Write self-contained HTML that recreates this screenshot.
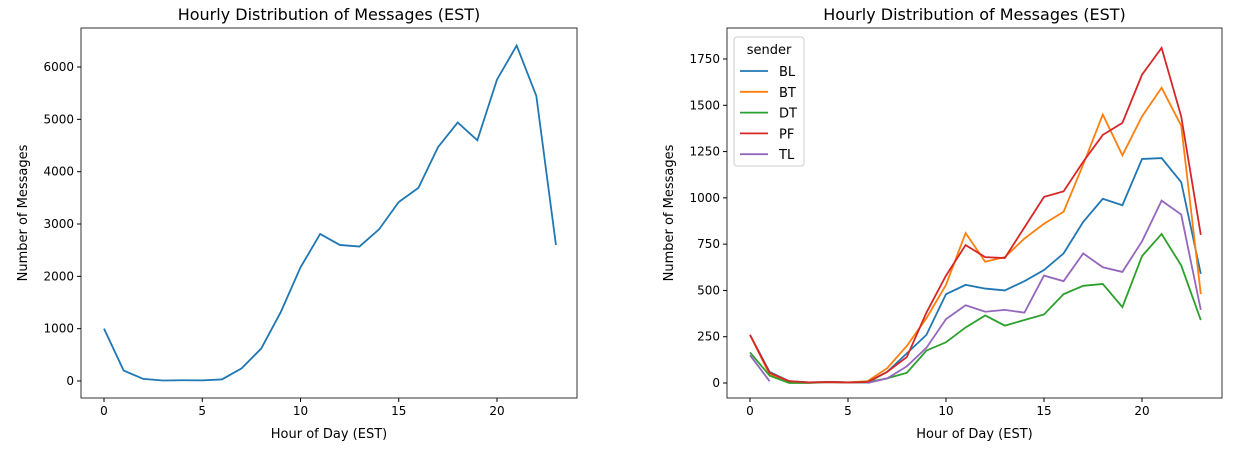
<!DOCTYPE html>
<html><head><meta charset="utf-8"><style>
body{margin:0;background:#fff;font-family:"DejaVu Sans","Liberation Sans",sans-serif}
svg text{font-family:"DejaVu Sans","Liberation Sans",sans-serif;fill:#000}
</style></head><body>
<svg id="c" width="1260" height="450"></svg>
<script>
const hours=[...Array(24).keys()];
const totalMsgs=[1000,200,40,10,15,12,30,240,620,1320,2170,2810,2600,2570,2900,3420,3690,4470,4940,4600,5760,6410,5450,2600];
const senders=["BL","BT","DT","PF","TL"];
const colors=["#1f77b4","#ff7f0e","#2ca02c","#d62728","#9467bd"];
const bl=[260,60,10,3,5,3,3,60,160,260,480,530,510,500,550,610,700,870,995,960,1210,1215,1085,590];
const bt=[260,45,5,2,5,3,10,80,200,350,530,810,655,680,780,860,925,1180,1450,1230,1440,1595,1390,480];
const dt=[165,40,0,0,5,3,5,25,55,175,220,300,365,310,340,370,480,525,535,410,685,805,635,340];
const pf=[260,55,10,3,5,3,5,60,140,380,580,745,680,675,840,1005,1035,1195,1340,1405,1665,1810,1440,800];
const tl=[150,10,null,null,null,null,0,25,90,190,345,420,385,395,380,580,550,700,625,600,765,985,910,395];
const xTicks=[0,5,10,15,20];
const yTicksL=[0,1000,2000,3000,4000,5000,6000];
const yTicksR=[0,250,500,750,1000,1250,1500,1750];
const NS="http://www.w3.org/2000/svg",svg=document.getElementById('c');
function el(t,a,txt){const e=document.createElementNS(NS,t);for(const k in a)e.setAttribute(k,a[k]);if(txt!=null)e.textContent=txt;svg.appendChild(e);return e;}
function panel(p){
 const {x0,y0,w,h,xs,ys,yt,name}=p;
 const g=el('rect',{x:x0,y:y0,width:w,height:h,fill:'none',stroke:'#000','stroke-width':0.8});
 
 xTicks.forEach(v=>{const X=xs(v);el('line',{x1:X,x2:X,y1:y0+h,y2:y0+h+4,stroke:'#000'});
  const t=el('text',{x:X,y:y0+h+17,'text-anchor':'middle','font-size':12},v);
  });
 yt.forEach(v=>{const Y=ys(v);el('line',{x1:x0-4,x2:x0,y1:Y,y2:Y,stroke:'#000'});
  const t=el('text',{x:x0-7,y:Y+4,'text-anchor':'end','font-size':12},v);
  });
 let t=el('text',{x:x0+w/2,y:y0-8,'text-anchor':'middle','font-size':16},'Hourly Distribution of Messages (EST)');
 
 t=el('text',{x:x0+w/2,y:y0+h+40,'text-anchor':'middle','font-size':13},'Hour of Day (EST)');
 
 const yx=p.yx;
 t=el('text',{x:yx,y:y0+h/2,'text-anchor':'middle','font-size':13,transform:`rotate(-90 ${yx} ${y0+h/2})`},'Number of Messages');
 
}
function line(data,xs,ys,color,name){
 let d='',pen=false;data.forEach((v,i)=>{if(v==null){pen=false;return;}d+=(pen?'L':'M')+xs(hours[i])+' '+ys(v);pen=true;});
 const p=el('path',{d,fill:'none',stroke:color,'stroke-width':1.8});
 
}
const xsL=v=>104+v*19.65, ysL=v=>381-v*0.05233;
panel({x0:81,y0:28,w:496,h:370,xs:xsL,ys:ysL,yt:yTicksL,name:'left-chart',yx:27});
line(totalMsgs,xsL,ysL,colors[0],'total-messages-line');
const xsR=v=>750+v*19.6, ysR=v=>383-v*0.18514;
panel({x0:727,y0:28,w:495,h:370,xs:xsR,ys:ysR,yt:yTicksR,name:'right-chart',yx:673});
[bl,bt,dt,pf,tl].forEach((s,i)=>line(s,xsR,ysR,colors[i],'line-'+senders[i].toLowerCase()));
const lg=el('rect',{x:734,y:37,width:70,height:129,rx:3,fill:'#fff','fill-opacity':0.8,stroke:'#ccc'});

let t=el('text',{x:769,y:54,'text-anchor':'middle','font-size':13},'sender');

senders.forEach((s,i)=>{const Y=71+i*20.8;
 el('line',{x1:740,x2:768,y1:Y,y2:Y,stroke:colors[i],'stroke-width':1.8});
 const tt=el('text',{x:779,y:Y+5,'font-size':13},s);
 });
</script>
</body></html>
